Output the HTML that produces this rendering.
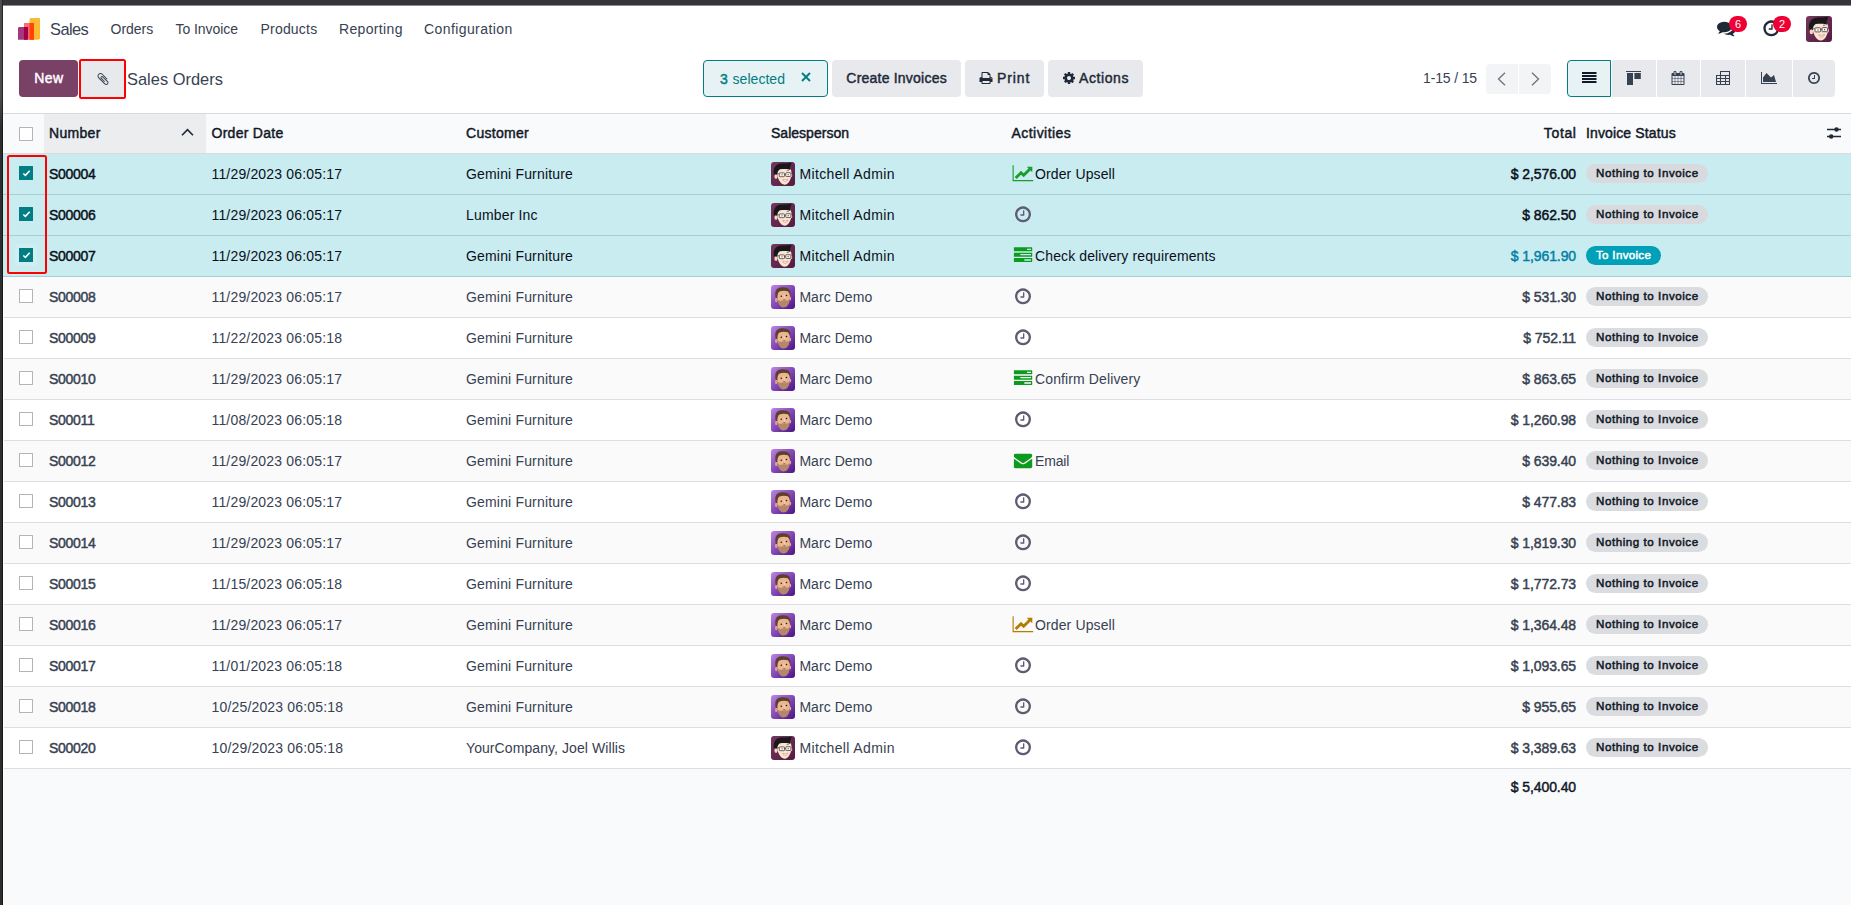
<!DOCTYPE html>
<html lang="en"><head><meta charset="utf-8"><title>Odoo - Sales Orders</title>
<style>
*{box-sizing:border-box}
html,body{margin:0;padding:0}
body{width:1851px;height:905px;overflow:hidden;position:relative;background:#f9fafb;font-family:"Liberation Sans",sans-serif;font-size:14px;color:#374151}
svg{display:block}
.abs{position:absolute}
.topbar{position:absolute;left:0;top:0;width:1851px;height:6px;background:linear-gradient(#353439 0,#353439 5px,#8b8a8e 5px,#8b8a8e 6px);z-index:5}
.leftstrip{position:absolute;left:0;top:0;width:3px;height:905px;background:linear-gradient(90deg,rgba(0,0,0,0) 0,rgba(0,0,0,0) 2px,rgba(0,0,0,.5) 2px),linear-gradient(#4d4d4d 0,#4d4d4d 95px,#2e2e2e 128px,#2e2e2e 100%);z-index:6}
.navbar{position:absolute;left:3px;top:5px;width:1848px;height:46px;background:#fff}
.navbar span{position:absolute;white-space:nowrap;line-height:46px;top:1px;color:#374151}
.navbar .brand{font-size:16.400px;letter-spacing:-.55px;left:47px;color:#374151}
.logo{position:absolute;left:15px;top:13px}
.nbic{position:absolute}
.nbadge{position:absolute;height:16px;min-width:18px;border-radius:8px;background:#ee0034;color:#fff;font-size:11px;line-height:16px;text-align:center;top:11px}
.cp{position:absolute;left:3px;top:51px;width:1848px;height:63px;background:#fff;border-bottom:1px solid #d8dadd}
.btn{position:absolute;top:9px;height:37px;border-radius:4px;background:#e7e9ed;color:#1f2937;-webkit-text-stroke:.45px currentColor;line-height:37px;white-space:nowrap}
.btn span{position:absolute;top:0}
.btn svg{position:absolute}
.btn-new{left:16px;width:59px;background:#71416a;background:#7a4167;color:#fff;text-align:center}
.btn-clip{left:78px;width:43px;top:10px;height:36px;border-radius:3px}
.crumb{position:absolute;left:124px;top:10px;line-height:37px;font-size:16.400px;letter-spacing:.02px;color:#374151;white-space:nowrap}
.selbox{position:absolute;left:700px;top:9px;width:125px;height:37px;border:1px solid #017e84;border-radius:4px;background:#e6f2f3;color:#017e84;line-height:35px;white-space:nowrap}
.selbox span{position:absolute;top:.7px}
.pager{position:absolute;left:1420px;top:9px;line-height:37px;color:#374151;letter-spacing:-.15px;white-space:nowrap}
.pgb{position:absolute;top:13px;height:30px;width:32px;background:#f3f4f6}
.pgb svg{position:absolute;left:11px;top:8px}
.vb{position:absolute;top:9px;height:37px;background:#e7e9ed}
.vb svg{position:absolute}
.vb.act{background:#e6f2f3;border:1px solid #017e84;border-radius:4px 0 0 4px}
/* list */
.list{position:absolute;left:3px;top:114px;width:1848px}
.thead{position:relative;height:40px;border-bottom:1px solid #d8dadd;background:#f9fafb;line-height:39px}
.thead:before{content:"";position:absolute;left:41px;top:0;width:162px;height:39px;background:#ecedef}
.th{position:absolute;top:0;-webkit-text-stroke:.45px currentColor;color:#111827;white-space:nowrap;letter-spacing:.4px}
.tr{position:relative;height:41px;border-bottom:1px solid #dcdee2;background:#fff;line-height:40px}
.tr.stripe{background:#fafafb}
.tr.sel{background:#c9ecf0;border-bottom-color:#a8cfd4;color:#0b0f1a}
.td{position:absolute;top:0;white-space:nowrap;letter-spacing:.17px}
.c-num{left:46px}
.td.c-num{-webkit-text-stroke:.45px currentColor;letter-spacing:-.3px}
.c-date{left:208.500px}
.c-cust{left:463px}
.c-sales{left:768px}
.c-act{left:1008px}
.c-total{right:275px;text-align:right}
.td.c-total{-webkit-text-stroke:.45px currentColor;letter-spacing:-.08px;margin-right:-.08px}
.th.c-total{right:275px}
.c-inv{left:1583px}
.info .c-total{color:#0180a5}
.av{position:absolute;left:0;top:8px}
.nm{position:absolute;left:28.400px;top:0}
.nm.mi{letter-spacing:.37px}
.nm.ma{letter-spacing:.06px}
.fw{position:absolute;left:0;top:0;width:24px;height:40px}
.fw svg{position:absolute;left:50%;top:10px;transform:translateX(-50%)}
.at{position:absolute;left:24px;top:0;letter-spacing:.12px}
.cb{position:absolute;left:16px;top:12px;width:14px;height:14px;border:1px solid #b4b4b6;background:#fff;border-radius:.5px}
.cb.on{background:#017e84;border-color:#017e84}
.cb.on svg{position:absolute;left:-1px;top:-1px}
.cb.focus{box-shadow:0 0 0 4px rgba(255,255,255,.16)}
.hcb{top:13px}
.badge{position:absolute;left:1583px;top:10px;height:19px;border-radius:10px;font-size:11.600px;-webkit-text-stroke:.5px currentColor;line-height:18px;padding:0 10px;white-space:nowrap;letter-spacing:.55px}
.bn{background:#dadce0;color:#111827;width:122px}
.sel .bn{background:#d8dadd}
.bt{background:#00a0b8;color:#fff;width:75px;letter-spacing:.3px}
.tfoot{position:relative;height:38px;line-height:36px;color:#111827}
.sortcaret{position:absolute;left:178.200px;top:14px}
.adjust{position:absolute;left:1823px;top:12px}
.redbox{position:absolute;border:2px solid #ff0000;border-radius:2.500px;z-index:4}
.rb1{left:79px;top:59px;width:47px;height:40px}
.rb2{left:7px;top:155px;width:40px;height:119px}

.th.c-num{letter-spacing:.3px}.th.c-date{letter-spacing:.28px}.th.c-cust{letter-spacing:.3px}.th.c-sales{letter-spacing:.02px}.th.c-act{letter-spacing:.45px;margin-left:.5px}.th.c-total{letter-spacing:.65px;margin-right:-.65px}.th.c-inv{letter-spacing:.13px}
.nbic .av{position:static}
.ls08{letter-spacing:.08px}
.wcol{position:absolute;left:3px;width:1px;background:#fff;z-index:3}
.at.em{letter-spacing:-.15px}

</style></head>
<body>
<div class="topbar"></div>
<div class="leftstrip"></div>
<nav class="navbar">
<svg class="logo" viewBox="0 0 22 22" width="22" height="22"><path d="M12.500 0H22v20.300L20.500 21.800H11.500V1z" fill="#fbb936"/><path d="M6 5h10v16.800H6z" fill="#ff6b7f"/><path d="M11.500 5H16v16.800h-4.500z" fill="#ff4500"/><path d="M1 9h9v12.800H0V10z" fill="#a3387f"/><path d="M6 9h4.100v11.800l-1 1H6z" fill="#a40046"/></svg>
<span class="brand">Sales</span>
<span style="left:107.500px">Orders</span>
<span style="left:172.500px;letter-spacing:-.05px">To Invoice</span>
<span style="left:257.500px;letter-spacing:.2px">Products</span>
<span style="left:336px;letter-spacing:.34px">Reporting</span>
<span style="left:421px;letter-spacing:.41px">Configuration</span>
<div class="nbic" style="left:1714px;top:14px"><svg class="fa" viewBox="0 0 1792 1792" width="18.67" height="18.67" style=""><path fill="#1f2937" d="M1408 768q0 139-94 257t-256.500 186.500-353.500 68.500q-86 0-176-16-124 88-278 128-36 9-86 16h-3q-11 0-20.500-8t-11.500-21q-1-3-1-6.500t.5-6.500 2-6l2.500-5 3.500-5.500 4-5 4.500-5 4-4.500q5-6 23-25t26-29.500 22.500-29 25-38.500 20.500-44q-124-72-195-177t-71-224q0-139 94-257t256.500-186.500 353.500-68.500 353.500 68.500 256.500 186.500 94 257zm384 256q0 120-71 224.500t-195 176.500q10 24 20.500 44t25 38.500 22.500 29 26 29.500 23 25q1 1 4 4.500t4.500 5 4 5 3.500 5.500l2.500 5 2 6 .5 6.500-1 6.500q-3 14-13 22t-22 7q-50-7-86-16-154-40-278-128-90 16-176 16-271 0-472-132 58 4 88 4 161 0 309-45t264-129q125-92 192-212t67-254q0-77-23-152 129 71 204 178t75 230z"/></svg></div>
<div class="nbadge" style="left:1726px">6</div>
<div class="nbic" style="left:1758.500px;top:14px"><svg class="fa" viewBox="0 0 1792 1792" width="18.67" height="18.67" style=""><path fill="#1f2937" d="M1024 544v448q0 14-9 23t-23 9h-320q-14 0-23-9t-9-23v-64q0-14 9-23t23-9h224v-352q0-14 9-23t23-9h64q14 0 23 9t9 23zm416 352q0-148-73-273t-198-198-273-73-273 73-198 198-73 273 73 273 198 198 273 73 273-73 198-198 73-273zm224 0q0 209-103 385.500t-279.500 279.500-385.500 103-385.500-103-279.500-279.500-103-385.500 103-385.500 279.500-279.500 385.500-103 385.500 103 279.500 279.500 103 385.500z"/></svg></div>
<div class="nbadge" style="left:1770px">2</div>
<div class="nbic" style="left:1803px;top:11px"><svg class="av" viewBox="0 0 26 26" width="26" height="26"><defs><linearGradient id="gmt" x1="0" y1="0" x2="1" y2="1"><stop offset="0" stop-color="#74385f"/><stop offset="1" stop-color="#561a41"/></linearGradient></defs><rect width="26" height="26" rx="3.200" fill="url(#gmt)"/><ellipse cx="5.400" cy="15.800" rx="1.700" ry="2.500" fill="#f6d6bc"/><ellipse cx="22" cy="14.600" rx="1" ry="1.900" fill="#eec3a4"/><path d="M6.300 9C6.300 6 10 5.400 14 5.400c4.500 0 8 1 8.200 5.600.3 6-2.700 13.600-7.400 13.600C10 24.600 6.300 17 6.300 9z" fill="#fce4d0"/><path d="M3.200 13.800C2.200 8 4 3.500 9 2 13 .8 17.500 2 21.900.7c.2 1.800-.4 3.500-1.500 4.800.5 1.300.6 2.200.3 3.200C18 7 13 7.900 9.700 7.900 7.900 8.900 7.100 11 6.600 13.800c-1-.6-2.500-.6-3.400 0z" fill="#18181b"/><rect x="9" y="11.800" width="5.600" height="4.100" rx=".7" fill="#fff" fill-opacity=".62" stroke="#4a4a4e" stroke-width=".9"/><rect x="16" y="11.600" width="5.500" height="4.100" rx=".7" fill="#fff" fill-opacity=".62" stroke="#4a4a4e" stroke-width=".9"/><path d="M14.600 13.300H16M6.600 12.900L9 12.700" stroke="#4a4a4e" stroke-width=".8"/><circle cx="12" cy="13.900" r=".6" fill="#3a3a3a"/><circle cx="18.600" cy="13.700" r=".6" fill="#3a3a3a"/><path d="M17 9.400q1.100-.6 2.200 0" stroke="#222" stroke-width=".6" fill="none"/><path d="M12.700 18.800q2.900 1.300 5.800-.3-.9 2.600-3 2.600-2.100 0-2.800-2.300z" fill="#fff" stroke="#b5645a" stroke-width=".45"/></svg></div>
</nav>
<header class="cp">
<div class="btn btn-new"><span style="left:15.200px;letter-spacing:.4px">New</span></div>
<div class="btn btn-clip"><div style="position:absolute;left:15px;top:11px"><svg class="fa" viewBox="0 0 1792 1792" width="14.00" height="14.00" style=""><path fill="#374151" d="M1596 1385q0 117-79 196t-196 79q-135 0-235-100l-777-776q-113-115-113-271 0-159 110-270t269-111q158 0 273 113l605 606q10 10 10 22 0 16-30.500 46.500t-46.500 30.500q-13 0-23-10l-606-607q-79-77-181-77-106 0-179 75t-73 181q0 105 76 181l776 777q63 63 145 63 64 0 106-42t42-106q0-82-63-145l-581-581q-26-24-60-24-29 0-48 19t-19 48q0 32 25 59l410 410q10 10 10 22 0 16-31 47t-47 31q-12 0-22-10l-410-410q-63-61-63-149 0-82 57-139t139-57q88 0 149 63l581 581q100 98 100 235z"/></svg></div></div>
<div class="crumb">Sales Orders</div>
<div class="selbox"><span style="left:16px;-webkit-text-stroke:.45px currentColor">3</span><span style="left:28.500px;letter-spacing:.05px">selected</span><svg style="position:absolute;left:97.200px;top:11px" viewBox="0 0 10 10" width="10" height="10"><path d="M1 1l8 8M9 1l-8 8" stroke="#017e84" stroke-width="1.900" fill="none"/></svg></div>
<div class="btn" style="left:829px;width:129px"><span style="left:14.300px;letter-spacing:.22px">Create Invoices</span></div>
<div class="btn" style="left:962px;width:79px"><div style="position:absolute;left:14px;top:11px"><svg class="fa" viewBox="0 0 1792 1792" width="14.00" height="14.00" style=""><path fill="#1f2937" d="M448 1536h896v-256h-896v256zm0-640h896v-384h-160q-40 0-68-28t-28-68v-160h-640v640zm1152 64q0-26-19-45t-45-19-45 19-19 45 19 45 45 19 45-19 19-45zm128 0v416q0 13-9.500 22.500t-22.500 9.500h-224v160q0 40-28 68t-68 28h-960q-40 0-68-28t-28-68v-160h-224q-13 0-22.500-9.500t-9.500-22.500v-416q0-79 56.500-135.500t135.500-56.500h64v-544q0-40 28-68t68-28h672q40 0 88 20t76 48l152 152q28 28 48 76t20 88v256h64q79 0 135.500 56.500t56.500 135.500z"/></svg></div><span style="left:32px;letter-spacing:.9px">Print</span></div>
<div class="btn" style="left:1045px;width:95px"><div style="position:absolute;left:13.500px;top:11px"><svg class="fa" viewBox="0 0 1792 1792" width="14.00" height="14.00" style=""><path fill="#1f2937" d="M1152 896q0-106-75-181t-181-75-181 75-75 181 75 181 181 75 181-75 75-181zm512-109v222q0 12-8 23t-20 13l-185 28q-19 54-39 91 35 50 107 138 10 12 10 25t-9 23q-27 37-99 108t-94 71q-12 0-26-9l-138-108q-44 23-91 38-16 136-29 186-7 28-36 28h-222q-14 0-24.500-8.500t-11.500-21.500l-28-184q-49-16-90-37l-141 107q-10 9-25 9-14 0-25-11-126-114-165-168-7-10-7-23 0-12 8-23 15-21 51-66.500t54-70.500q-27-50-41-99l-183-27q-13-2-21-12.500t-8-23.500v-222q0-12 8-23t19-13l186-28q14-46 39-92-40-57-107-138-10-12-10-24 0-10 9-23 26-36 98.500-107.500t94.500-71.500q13 0 26 10l138 107q44-23 91-38 16-136 29-186 7-28 36-28h222q14 0 24.500 8.500t11.500 21.500l28 184q49 16 90 37l142-107q9-9 24-9 13 0 25 10 129 119 165 170 7 8 7 22 0 12-8 23-15 21-51 66.500t-54 70.500q26 50 41 98l183 28q13 2 21 12.500t8 23.500z"/></svg></div><span style="left:31px;letter-spacing:.58px">Actions</span></div>
<div class="pager">1-15 / 15</div>
<div class="pgb" style="left:1483px;border-radius:4px 0 0 4px"><svg viewBox="0 0 10 14" width="10" height="14"><path d="M8 .7L1.500 7 8 13.300" fill="none" stroke="#6b7280" stroke-width="1.300"/></svg></div>
<div class="pgb" style="left:1516px;border-radius:0 4px 4px 0"><svg viewBox="0 0 10 14" width="10" height="14"><path d="M2 .7L8.500 7 2 13.300" fill="none" stroke="#6b7280" stroke-width="1.300"/></svg></div>
<div class="vb act" style="left:1564px;width:44px"><svg style="left:14px;top:11.300px" viewBox="0 0 14.500 11" width="14.500" height="11"><path d="M0 1h14.500M0 4h14.500M0 7h14.500M0 10h14.500" stroke="#111827" stroke-width="1.900"/></svg></div>
<div class="vb" style="left:1609px;width:44px"><svg style="left:14px;top:11px" viewBox="0 0 15 14" width="15" height="14"><path d="M0 .5h15" stroke="#374151" stroke-width="1"/><rect x="1" y="2" width="6" height="12" fill="#374151"/><rect x="8.400" y="2" width="6.400" height="6" fill="#374151"/></svg></div>
<div class="vb" style="left:1654px;width:43px"><div style="position:absolute;left:14px;top:11px"><svg class="fa" viewBox="0 0 1792 1792" width="14.00" height="14.00" style=""><path fill="#374151" d="M192 1664h288v-288h-288v288zm352 0h320v-288h-320v288zm-352-352h288v-320h-288v320zm352 0h320v-320h-320v320zm-352-384h288v-288h-288v288zm736 736h320v-288h-320v288zm-384-736h320v-288h-320v288zm768 736h288v-288h-288v288zm-384-352h320v-320h-320v320zm-352-864v-288q0-13-9.500-22.500t-22.500-9.500h-64q-13 0-22.500 9.500t-9.500 22.500v288q0 13 9.500 22.500t22.500 9.500h64q13 0 22.500-9.500t9.500-22.500zm736 864h288v-320h-288v320zm-384-384h320v-288h-320v288zm384 0h288v-288h-288v288zm32-480v-288q0-13-9.500-22.500t-22.500-9.500h-64q-13 0-22.500 9.500t-9.500 22.500v288q0 13 9.500 22.500t22.500 9.500h64q13 0 22.500-9.500t9.500-22.500zm384-64v1280q0 52-38 90t-90 38h-1408q-52 0-90-38t-38-90v-1280q0-52 38-90t90-38h128v-96q0-66 47-113t113-47h64q66 0 113 47t47 113v96h384v-96q0-66 47-113t113-47h64q66 0 113 47t47 113v96h128q52 0 90 38t38 90z"/></svg></div></div>
<div class="vb" style="left:1698px;width:44px"><svg style="left:15px;top:11px" viewBox="0 0 14 14" width="14" height="14"><path d="M4.500 .5h9v13H.5v-9h4zM.5 4.500h13M.5 7.500h13M.5 10.500h13M4.500 .5v13M9.500 4.500v9" fill="none" stroke="#374151" stroke-width="1.050"/></svg></div>
<div class="vb" style="left:1743px;width:46px"><div style="position:absolute;left:15px;top:11px"><svg class="fa" viewBox="0 0 2048 1792" width="16.00" height="14.00" style=""><path fill="#374151" d="M2048 1536v128h-2048v-1536h128v1408h1920zm-384-1024l256 896h-1664v-576l448-576 576 576z"/></svg></div></div>
<div class="vb" style="left:1790px;width:42px;border-radius:0 4px 4px 0"><div style="position:absolute;left:14px;top:11px"><svg class="fa" viewBox="0 0 1792 1792" width="14.00" height="14.00" style=""><path fill="#374151" d="M1024 544v448q0 14-9 23t-23 9h-320q-14 0-23-9t-9-23v-64q0-14 9-23t23-9h224v-352q0-14 9-23t23-9h64q14 0 23 9t9 23zm416 352q0-148-73-273t-198-198-273-73-273 73-198 198-73 273 73 273 198 198 273 73 273-73 198-198 73-273zm224 0q0 209-103 385.500t-279.500 279.500-385.500 103-385.500-103-279.500-279.500-103-385.500 103-385.500 279.500-279.500 385.500-103 385.500 103 279.500 279.500 103 385.500z"/></svg></div></div>
</header>
<main class="list" role="table" aria-label="Sales Orders">
<div class="thead" role="row">
<span class="cb hcb"></span>
<span class="th c-num">Number</span>
<svg class="sortcaret" viewBox="0 0 13 8" width="13" height="8"><path d="M1 7.200L6.500 1.700l5.500 5.500" fill="none" stroke="#1f2937" stroke-width="1.600"/></svg>
<span class="th c-date">Order Date</span>
<span class="th c-cust">Customer</span>
<span class="th c-sales">Salesperson</span>
<span class="th c-act">Activities</span>
<span class="th c-total">Total</span>
<span class="th c-inv">Invoice Status</span>
<svg class="adjust" viewBox="0 0 16 14" width="16" height="14"><path d="M1 3.500h14M1 10.500h14" stroke="#1f2937" stroke-width="1.300"/><circle cx="10.500" cy="3.500" r="2.200" fill="#1f2937"/><circle cx="5.200" cy="10.500" r="2.200" fill="#1f2937"/></svg>
</div>
<div class="tr sel" role="row">
<span class="cb on"><svg viewBox="0 0 14 14" width="14" height="14"><path d="M4.300 7.500L6.400 9.400 10.700 4.700" fill="none" stroke="#fff" stroke-width="1.600"/></svg></span><span class="td c-num">S00004</span><span class="td c-date">11/29/2023 06:05:17</span><span class="td c-cust">Gemini Furniture</span><span class="td c-sales"><svg class="av" viewBox="0 0 26 26" width="24" height="24"><defs><linearGradient id="gm0" x1="0" y1="0" x2="1" y2="1"><stop offset="0" stop-color="#74385f"/><stop offset="1" stop-color="#561a41"/></linearGradient></defs><rect width="26" height="26" rx="3.200" fill="url(#gm0)"/><ellipse cx="5.400" cy="15.800" rx="1.700" ry="2.500" fill="#f6d6bc"/><ellipse cx="22" cy="14.600" rx="1" ry="1.900" fill="#eec3a4"/><path d="M6.300 9C6.300 6 10 5.400 14 5.400c4.500 0 8 1 8.200 5.600.3 6-2.700 13.600-7.400 13.600C10 24.600 6.300 17 6.300 9z" fill="#fce4d0"/><path d="M3.200 13.800C2.200 8 4 3.500 9 2 13 .8 17.500 2 21.900.7c.2 1.800-.4 3.500-1.500 4.800.5 1.300.6 2.200.3 3.200C18 7 13 7.900 9.700 7.900 7.900 8.900 7.100 11 6.600 13.800c-1-.6-2.500-.6-3.400 0z" fill="#18181b"/><rect x="9" y="11.800" width="5.600" height="4.100" rx=".7" fill="#fff" fill-opacity=".62" stroke="#4a4a4e" stroke-width=".9"/><rect x="16" y="11.600" width="5.500" height="4.100" rx=".7" fill="#fff" fill-opacity=".62" stroke="#4a4a4e" stroke-width=".9"/><path d="M14.600 13.300H16M6.600 12.900L9 12.700" stroke="#4a4a4e" stroke-width=".8"/><circle cx="12" cy="13.900" r=".6" fill="#3a3a3a"/><circle cx="18.600" cy="13.700" r=".6" fill="#3a3a3a"/><path d="M17 9.400q1.100-.6 2.200 0" stroke="#222" stroke-width=".6" fill="none"/><path d="M12.700 18.800q2.900 1.300 5.800-.3-.9 2.600-3 2.600-2.100 0-2.800-2.300z" fill="#fff" stroke="#b5645a" stroke-width=".45"/></svg><span class="nm mi">Mitchell Admin</span></span><span class="td c-act"><span class="fw"><svg class="fa" viewBox="0 0 2048 1792" width="21.34" height="18.67" style=""><path fill="#1a9d2b" d="M2048 1536v128h-2048v-1536h128v1408h1920zm-128-1248v435q0 21-19.500 29.500t-35.500-7.500l-121-121-633 633q-10 10-23 10t-23-10l-233-233-416 416-192-192 585-585q10-10 23-10t23 10l233 233 464-464-121-121q-16-16-7.500-35.500t29.500-19.500h435q14 0 23 9t9 23z"/></svg></span><span class="at">Order Upsell</span></span><span class="td c-total">$ 2,576.00</span><span class="badge bn">Nothing to Invoice</span>
</div>
<div class="tr sel" role="row">
<span class="cb on"><svg viewBox="0 0 14 14" width="14" height="14"><path d="M4.300 7.500L6.400 9.400 10.700 4.700" fill="none" stroke="#fff" stroke-width="1.600"/></svg></span><span class="td c-num">S00006</span><span class="td c-date">11/29/2023 06:05:17</span><span class="td c-cust">Lumber Inc</span><span class="td c-sales"><svg class="av" viewBox="0 0 26 26" width="24" height="24"><defs><linearGradient id="gm1" x1="0" y1="0" x2="1" y2="1"><stop offset="0" stop-color="#74385f"/><stop offset="1" stop-color="#561a41"/></linearGradient></defs><rect width="26" height="26" rx="3.200" fill="url(#gm1)"/><ellipse cx="5.400" cy="15.800" rx="1.700" ry="2.500" fill="#f6d6bc"/><ellipse cx="22" cy="14.600" rx="1" ry="1.900" fill="#eec3a4"/><path d="M6.300 9C6.300 6 10 5.400 14 5.400c4.500 0 8 1 8.200 5.600.3 6-2.700 13.600-7.400 13.600C10 24.600 6.300 17 6.300 9z" fill="#fce4d0"/><path d="M3.200 13.800C2.200 8 4 3.500 9 2 13 .8 17.500 2 21.900.7c.2 1.800-.4 3.500-1.500 4.800.5 1.300.6 2.200.3 3.200C18 7 13 7.900 9.700 7.900 7.900 8.900 7.100 11 6.600 13.800c-1-.6-2.500-.6-3.400 0z" fill="#18181b"/><rect x="9" y="11.800" width="5.600" height="4.100" rx=".7" fill="#fff" fill-opacity=".62" stroke="#4a4a4e" stroke-width=".9"/><rect x="16" y="11.600" width="5.500" height="4.100" rx=".7" fill="#fff" fill-opacity=".62" stroke="#4a4a4e" stroke-width=".9"/><path d="M14.600 13.300H16M6.600 12.900L9 12.700" stroke="#4a4a4e" stroke-width=".8"/><circle cx="12" cy="13.900" r=".6" fill="#3a3a3a"/><circle cx="18.600" cy="13.700" r=".6" fill="#3a3a3a"/><path d="M17 9.400q1.100-.6 2.200 0" stroke="#222" stroke-width=".6" fill="none"/><path d="M12.700 18.800q2.900 1.300 5.800-.3-.9 2.600-3 2.600-2.100 0-2.800-2.300z" fill="#fff" stroke="#b5645a" stroke-width=".45"/></svg><span class="nm mi">Mitchell Admin</span></span><span class="td c-act"><span class="fw"><svg class="fa" viewBox="0 0 1792 1792" width="18.67" height="18.67" style=""><path fill="#5e5c72" d="M1024 544v448q0 14-9 23t-23 9h-320q-14 0-23-9t-9-23v-64q0-14 9-23t23-9h224v-352q0-14 9-23t23-9h64q14 0 23 9t9 23zm416 352q0-148-73-273t-198-198-273-73-273 73-198 198-73 273 73 273 198 198 273 73 273-73 198-198 73-273zm224 0q0 209-103 385.500t-279.500 279.500-385.500 103-385.500-103-279.500-279.500-103-385.500 103-385.500 279.500-279.500 385.500-103 385.500 103 279.500 279.500 103 385.500z"/></svg></span></span><span class="td c-total">$ 862.50</span><span class="badge bn">Nothing to Invoice</span>
</div>
<div class="tr sel info" role="row">
<span class="cb on focus"><svg viewBox="0 0 14 14" width="14" height="14"><path d="M4.300 7.500L6.400 9.400 10.700 4.700" fill="none" stroke="#fff" stroke-width="1.600"/></svg></span><span class="td c-num">S00007</span><span class="td c-date">11/29/2023 06:05:17</span><span class="td c-cust">Gemini Furniture</span><span class="td c-sales"><svg class="av" viewBox="0 0 26 26" width="24" height="24"><defs><linearGradient id="gm2" x1="0" y1="0" x2="1" y2="1"><stop offset="0" stop-color="#74385f"/><stop offset="1" stop-color="#561a41"/></linearGradient></defs><rect width="26" height="26" rx="3.200" fill="url(#gm2)"/><ellipse cx="5.400" cy="15.800" rx="1.700" ry="2.500" fill="#f6d6bc"/><ellipse cx="22" cy="14.600" rx="1" ry="1.900" fill="#eec3a4"/><path d="M6.300 9C6.300 6 10 5.400 14 5.400c4.500 0 8 1 8.200 5.600.3 6-2.700 13.600-7.400 13.600C10 24.600 6.300 17 6.300 9z" fill="#fce4d0"/><path d="M3.200 13.800C2.200 8 4 3.500 9 2 13 .8 17.500 2 21.900.7c.2 1.800-.4 3.500-1.500 4.800.5 1.300.6 2.200.3 3.200C18 7 13 7.900 9.700 7.900 7.900 8.900 7.100 11 6.600 13.800c-1-.6-2.500-.6-3.400 0z" fill="#18181b"/><rect x="9" y="11.800" width="5.600" height="4.100" rx=".7" fill="#fff" fill-opacity=".62" stroke="#4a4a4e" stroke-width=".9"/><rect x="16" y="11.600" width="5.500" height="4.100" rx=".7" fill="#fff" fill-opacity=".62" stroke="#4a4a4e" stroke-width=".9"/><path d="M14.600 13.300H16M6.600 12.900L9 12.700" stroke="#4a4a4e" stroke-width=".8"/><circle cx="12" cy="13.900" r=".6" fill="#3a3a3a"/><circle cx="18.600" cy="13.700" r=".6" fill="#3a3a3a"/><path d="M17 9.400q1.100-.6 2.200 0" stroke="#222" stroke-width=".6" fill="none"/><path d="M12.700 18.800q2.900 1.300 5.800-.3-.9 2.600-3 2.600-2.100 0-2.800-2.300z" fill="#fff" stroke="#b5645a" stroke-width=".45"/></svg><span class="nm mi">Mitchell Admin</span></span><span class="td c-act"><span class="fw"><svg class="fa" viewBox="0 0 1792 1792" width="18.67" height="18.67" style=""><path fill="#0e9a1f" d="M1024 1408h640v-128h-640v128zm-384-512h1024v-128h-1024v128zm640-512h384v-128h-384v128zm512 832v256q0 26-19 45t-45 19h-1664q-26 0-45-19t-19-45v-256q0-26 19-45t45-19h1664q26 0 45 19t19 45zm0-512v256q0 26-19 45t-45 19h-1664q-26 0-45-19t-19-45v-256q0-26 19-45t45-19h1664q26 0 45 19t19 45zm0-512v256q0 26-19 45t-45 19h-1664q-26 0-45-19t-19-45v-256q0-26 19-45t45-19h1664q26 0 45 19t19 45z"/></svg></span><span class="at">Check delivery requirements</span></span><span class="td c-total">$ 1,961.90</span><span class="badge bt">To Invoice</span>
</div>
<div class="tr stripe" role="row">
<span class="cb"></span><span class="td c-num">S00008</span><span class="td c-date">11/29/2023 06:05:17</span><span class="td c-cust">Gemini Furniture</span><span class="td c-sales"><svg class="av" viewBox="0 0 24 24" width="24" height="24"><defs><linearGradient id="gd3" x1="0" y1="0" x2="1" y2="1"><stop offset="0" stop-color="#bd86e6"/><stop offset=".5" stop-color="#8349b6"/><stop offset="1" stop-color="#4b1282"/></linearGradient></defs><rect width="24" height="24" rx="3" fill="url(#gd3)"/><ellipse cx="5.300" cy="15" rx="1.300" ry="2.300" fill="#dba47e"/><ellipse cx="19.200" cy="13.600" rx=".9" ry="1.800" fill="#e3b08c"/><path d="M6 8c0-3.500 3-4 6.500-4S19 5 19 9.500c0 5.500-1.500 12.700-6.400 12.700C8 22.200 6 15 6 8z" fill="#e9b68f"/><path d="M6.700 14.500c1.300 1.500 2.800 1.700 4.300 1.100 1.500-.4 3-.4 4.500-.1 1.500.3 2.500-.5 3.200-2 0 4.500-2.200 8.800-6.100 8.800-3.600 0-5.600-3.800-5.900-7.800z" fill="#b3876a"/><path d="M4.800 13C3.500 8 4.500 3.500 9 2.600c4-.8 8.500-.1 9.800 2.900.8 2 .7 4 .2 5.500-.4-2-1-3.500-2.200-4.700C14 5.500 10.500 5.600 8 6.800 6.800 8.500 6.400 10.500 6.200 13z" fill="#5e3f2e"/><ellipse cx="10.300" cy="11.300" rx=".8" ry=".75" fill="#2a1a14"/><ellipse cx="15.500" cy="10.600" rx=".8" ry=".75" fill="#2a1a14"/><path d="M12.900 9.500l.6 3.800" stroke="#f6d2b6" stroke-width="1.100"/><ellipse cx="13.300" cy="14.500" rx="1.100" ry=".5" fill="#b5604a"/></svg><span class="nm ma">Marc Demo</span></span><span class="td c-act"><span class="fw"><svg class="fa" viewBox="0 0 1792 1792" width="18.67" height="18.67" style=""><path fill="#5e5c72" d="M1024 544v448q0 14-9 23t-23 9h-320q-14 0-23-9t-9-23v-64q0-14 9-23t23-9h224v-352q0-14 9-23t23-9h64q14 0 23 9t9 23zm416 352q0-148-73-273t-198-198-273-73-273 73-198 198-73 273 73 273 198 198 273 73 273-73 198-198 73-273zm224 0q0 209-103 385.500t-279.500 279.500-385.500 103-385.500-103-279.500-279.500-103-385.500 103-385.500 279.500-279.500 385.500-103 385.500 103 279.500 279.500 103 385.500z"/></svg></span></span><span class="td c-total">$ 531.30</span><span class="badge bn">Nothing to Invoice</span>
</div>
<div class="tr" role="row">
<span class="cb"></span><span class="td c-num">S00009</span><span class="td c-date">11/22/2023 06:05:18</span><span class="td c-cust">Gemini Furniture</span><span class="td c-sales"><svg class="av" viewBox="0 0 24 24" width="24" height="24"><defs><linearGradient id="gd4" x1="0" y1="0" x2="1" y2="1"><stop offset="0" stop-color="#bd86e6"/><stop offset=".5" stop-color="#8349b6"/><stop offset="1" stop-color="#4b1282"/></linearGradient></defs><rect width="24" height="24" rx="3" fill="url(#gd4)"/><ellipse cx="5.300" cy="15" rx="1.300" ry="2.300" fill="#dba47e"/><ellipse cx="19.200" cy="13.600" rx=".9" ry="1.800" fill="#e3b08c"/><path d="M6 8c0-3.500 3-4 6.500-4S19 5 19 9.500c0 5.500-1.500 12.700-6.400 12.700C8 22.200 6 15 6 8z" fill="#e9b68f"/><path d="M6.700 14.500c1.300 1.500 2.800 1.700 4.300 1.100 1.500-.4 3-.4 4.500-.1 1.500.3 2.500-.5 3.200-2 0 4.500-2.200 8.800-6.100 8.800-3.600 0-5.600-3.800-5.900-7.800z" fill="#b3876a"/><path d="M4.800 13C3.500 8 4.500 3.500 9 2.600c4-.8 8.500-.1 9.800 2.900.8 2 .7 4 .2 5.500-.4-2-1-3.500-2.200-4.700C14 5.500 10.500 5.600 8 6.800 6.800 8.500 6.400 10.500 6.200 13z" fill="#5e3f2e"/><ellipse cx="10.300" cy="11.300" rx=".8" ry=".75" fill="#2a1a14"/><ellipse cx="15.500" cy="10.600" rx=".8" ry=".75" fill="#2a1a14"/><path d="M12.900 9.500l.6 3.800" stroke="#f6d2b6" stroke-width="1.100"/><ellipse cx="13.300" cy="14.500" rx="1.100" ry=".5" fill="#b5604a"/></svg><span class="nm ma">Marc Demo</span></span><span class="td c-act"><span class="fw"><svg class="fa" viewBox="0 0 1792 1792" width="18.67" height="18.67" style=""><path fill="#5e5c72" d="M1024 544v448q0 14-9 23t-23 9h-320q-14 0-23-9t-9-23v-64q0-14 9-23t23-9h224v-352q0-14 9-23t23-9h64q14 0 23 9t9 23zm416 352q0-148-73-273t-198-198-273-73-273 73-198 198-73 273 73 273 198 198 273 73 273-73 198-198 73-273zm224 0q0 209-103 385.500t-279.500 279.500-385.500 103-385.500-103-279.500-279.500-103-385.500 103-385.500 279.500-279.500 385.500-103 385.500 103 279.500 279.500 103 385.500z"/></svg></span></span><span class="td c-total">$ 752.11</span><span class="badge bn">Nothing to Invoice</span>
</div>
<div class="tr stripe" role="row">
<span class="cb"></span><span class="td c-num">S00010</span><span class="td c-date">11/29/2023 06:05:17</span><span class="td c-cust">Gemini Furniture</span><span class="td c-sales"><svg class="av" viewBox="0 0 24 24" width="24" height="24"><defs><linearGradient id="gd5" x1="0" y1="0" x2="1" y2="1"><stop offset="0" stop-color="#bd86e6"/><stop offset=".5" stop-color="#8349b6"/><stop offset="1" stop-color="#4b1282"/></linearGradient></defs><rect width="24" height="24" rx="3" fill="url(#gd5)"/><ellipse cx="5.300" cy="15" rx="1.300" ry="2.300" fill="#dba47e"/><ellipse cx="19.200" cy="13.600" rx=".9" ry="1.800" fill="#e3b08c"/><path d="M6 8c0-3.500 3-4 6.500-4S19 5 19 9.500c0 5.500-1.500 12.700-6.400 12.700C8 22.200 6 15 6 8z" fill="#e9b68f"/><path d="M6.700 14.500c1.300 1.500 2.800 1.700 4.300 1.100 1.500-.4 3-.4 4.500-.1 1.500.3 2.500-.5 3.200-2 0 4.500-2.200 8.800-6.100 8.800-3.600 0-5.600-3.800-5.900-7.800z" fill="#b3876a"/><path d="M4.800 13C3.500 8 4.500 3.500 9 2.600c4-.8 8.500-.1 9.800 2.900.8 2 .7 4 .2 5.500-.4-2-1-3.500-2.200-4.700C14 5.500 10.500 5.600 8 6.800 6.800 8.500 6.400 10.500 6.200 13z" fill="#5e3f2e"/><ellipse cx="10.300" cy="11.300" rx=".8" ry=".75" fill="#2a1a14"/><ellipse cx="15.500" cy="10.600" rx=".8" ry=".75" fill="#2a1a14"/><path d="M12.900 9.500l.6 3.800" stroke="#f6d2b6" stroke-width="1.100"/><ellipse cx="13.300" cy="14.500" rx="1.100" ry=".5" fill="#b5604a"/></svg><span class="nm ma">Marc Demo</span></span><span class="td c-act"><span class="fw"><svg class="fa" viewBox="0 0 1792 1792" width="18.67" height="18.67" style=""><path fill="#0e9a1f" d="M1024 1408h640v-128h-640v128zm-384-512h1024v-128h-1024v128zm640-512h384v-128h-384v128zm512 832v256q0 26-19 45t-45 19h-1664q-26 0-45-19t-19-45v-256q0-26 19-45t45-19h1664q26 0 45 19t19 45zm0-512v256q0 26-19 45t-45 19h-1664q-26 0-45-19t-19-45v-256q0-26 19-45t45-19h1664q26 0 45 19t19 45zm0-512v256q0 26-19 45t-45 19h-1664q-26 0-45-19t-19-45v-256q0-26 19-45t45-19h1664q26 0 45 19t19 45z"/></svg></span><span class="at">Confirm Delivery</span></span><span class="td c-total">$ 863.65</span><span class="badge bn">Nothing to Invoice</span>
</div>
<div class="tr" role="row">
<span class="cb"></span><span class="td c-num">S00011</span><span class="td c-date">11/08/2023 06:05:18</span><span class="td c-cust">Gemini Furniture</span><span class="td c-sales"><svg class="av" viewBox="0 0 24 24" width="24" height="24"><defs><linearGradient id="gd6" x1="0" y1="0" x2="1" y2="1"><stop offset="0" stop-color="#bd86e6"/><stop offset=".5" stop-color="#8349b6"/><stop offset="1" stop-color="#4b1282"/></linearGradient></defs><rect width="24" height="24" rx="3" fill="url(#gd6)"/><ellipse cx="5.300" cy="15" rx="1.300" ry="2.300" fill="#dba47e"/><ellipse cx="19.200" cy="13.600" rx=".9" ry="1.800" fill="#e3b08c"/><path d="M6 8c0-3.500 3-4 6.500-4S19 5 19 9.500c0 5.500-1.500 12.700-6.400 12.700C8 22.200 6 15 6 8z" fill="#e9b68f"/><path d="M6.700 14.500c1.300 1.500 2.800 1.700 4.300 1.100 1.500-.4 3-.4 4.500-.1 1.500.3 2.500-.5 3.200-2 0 4.500-2.200 8.800-6.100 8.800-3.600 0-5.600-3.800-5.900-7.800z" fill="#b3876a"/><path d="M4.800 13C3.500 8 4.500 3.500 9 2.600c4-.8 8.500-.1 9.800 2.900.8 2 .7 4 .2 5.500-.4-2-1-3.500-2.200-4.700C14 5.500 10.500 5.600 8 6.800 6.800 8.500 6.400 10.500 6.200 13z" fill="#5e3f2e"/><ellipse cx="10.300" cy="11.300" rx=".8" ry=".75" fill="#2a1a14"/><ellipse cx="15.500" cy="10.600" rx=".8" ry=".75" fill="#2a1a14"/><path d="M12.900 9.500l.6 3.800" stroke="#f6d2b6" stroke-width="1.100"/><ellipse cx="13.300" cy="14.500" rx="1.100" ry=".5" fill="#b5604a"/></svg><span class="nm ma">Marc Demo</span></span><span class="td c-act"><span class="fw"><svg class="fa" viewBox="0 0 1792 1792" width="18.67" height="18.67" style=""><path fill="#5e5c72" d="M1024 544v448q0 14-9 23t-23 9h-320q-14 0-23-9t-9-23v-64q0-14 9-23t23-9h224v-352q0-14 9-23t23-9h64q14 0 23 9t9 23zm416 352q0-148-73-273t-198-198-273-73-273 73-198 198-73 273 73 273 198 198 273 73 273-73 198-198 73-273zm224 0q0 209-103 385.500t-279.500 279.500-385.500 103-385.500-103-279.500-279.500-103-385.500 103-385.500 279.500-279.500 385.500-103 385.500 103 279.500 279.500 103 385.500z"/></svg></span></span><span class="td c-total">$ 1,260.98</span><span class="badge bn">Nothing to Invoice</span>
</div>
<div class="tr stripe" role="row">
<span class="cb"></span><span class="td c-num">S00012</span><span class="td c-date">11/29/2023 06:05:17</span><span class="td c-cust">Gemini Furniture</span><span class="td c-sales"><svg class="av" viewBox="0 0 24 24" width="24" height="24"><defs><linearGradient id="gd7" x1="0" y1="0" x2="1" y2="1"><stop offset="0" stop-color="#bd86e6"/><stop offset=".5" stop-color="#8349b6"/><stop offset="1" stop-color="#4b1282"/></linearGradient></defs><rect width="24" height="24" rx="3" fill="url(#gd7)"/><ellipse cx="5.300" cy="15" rx="1.300" ry="2.300" fill="#dba47e"/><ellipse cx="19.200" cy="13.600" rx=".9" ry="1.800" fill="#e3b08c"/><path d="M6 8c0-3.500 3-4 6.500-4S19 5 19 9.500c0 5.500-1.500 12.700-6.400 12.700C8 22.200 6 15 6 8z" fill="#e9b68f"/><path d="M6.700 14.500c1.300 1.500 2.800 1.700 4.300 1.100 1.500-.4 3-.4 4.500-.1 1.500.3 2.500-.5 3.200-2 0 4.500-2.200 8.800-6.100 8.800-3.600 0-5.600-3.800-5.900-7.800z" fill="#b3876a"/><path d="M4.800 13C3.500 8 4.500 3.500 9 2.600c4-.8 8.500-.1 9.800 2.900.8 2 .7 4 .2 5.500-.4-2-1-3.500-2.200-4.700C14 5.500 10.500 5.600 8 6.800 6.800 8.500 6.400 10.500 6.200 13z" fill="#5e3f2e"/><ellipse cx="10.300" cy="11.300" rx=".8" ry=".75" fill="#2a1a14"/><ellipse cx="15.500" cy="10.600" rx=".8" ry=".75" fill="#2a1a14"/><path d="M12.900 9.500l.6 3.800" stroke="#f6d2b6" stroke-width="1.100"/><ellipse cx="13.300" cy="14.500" rx="1.100" ry=".5" fill="#b5604a"/></svg><span class="nm ma">Marc Demo</span></span><span class="td c-act"><span class="fw"><svg class="fa" viewBox="0 0 1792 1792" width="18.67" height="18.67" style=""><path fill="#0e9a1f" d="M1792 710v794q0 66-47 113t-113 47h-1472q-66 0-113-47t-47-113v-794q44 49 101 87 362 246 497 345 57 42 92.500 65.500t94.500 48 110 24.500h2q51 0 110-24.500t94.500-48 92.500-65.500q170-123 498-345 57-39 100-87zm0-294q0 79-49 151t-122 123q-376 261-468 325-10 7-42.500 30.500t-54 38-52 32.500-57.500 27-50 9h-2q-23 0-50-9t-57.500-27-52-32.500-54-38-42.500-30.500q-91-64-262-182.500t-205-142.500q-62-42-117-115.500t-55-136.500q0-78 41.500-130t118.500-52h1472q65 0 112.500 47t47.500 113z"/></svg></span><span class="at em">Email</span></span><span class="td c-total">$ 639.40</span><span class="badge bn">Nothing to Invoice</span>
</div>
<div class="tr" role="row">
<span class="cb"></span><span class="td c-num">S00013</span><span class="td c-date">11/29/2023 06:05:17</span><span class="td c-cust">Gemini Furniture</span><span class="td c-sales"><svg class="av" viewBox="0 0 24 24" width="24" height="24"><defs><linearGradient id="gd8" x1="0" y1="0" x2="1" y2="1"><stop offset="0" stop-color="#bd86e6"/><stop offset=".5" stop-color="#8349b6"/><stop offset="1" stop-color="#4b1282"/></linearGradient></defs><rect width="24" height="24" rx="3" fill="url(#gd8)"/><ellipse cx="5.300" cy="15" rx="1.300" ry="2.300" fill="#dba47e"/><ellipse cx="19.200" cy="13.600" rx=".9" ry="1.800" fill="#e3b08c"/><path d="M6 8c0-3.500 3-4 6.500-4S19 5 19 9.500c0 5.500-1.500 12.700-6.400 12.700C8 22.200 6 15 6 8z" fill="#e9b68f"/><path d="M6.700 14.500c1.300 1.500 2.800 1.700 4.300 1.100 1.500-.4 3-.4 4.500-.1 1.500.3 2.500-.5 3.200-2 0 4.500-2.200 8.800-6.100 8.800-3.600 0-5.600-3.800-5.900-7.800z" fill="#b3876a"/><path d="M4.800 13C3.500 8 4.500 3.500 9 2.600c4-.8 8.500-.1 9.800 2.900.8 2 .7 4 .2 5.500-.4-2-1-3.500-2.200-4.700C14 5.500 10.500 5.600 8 6.800 6.800 8.500 6.400 10.500 6.200 13z" fill="#5e3f2e"/><ellipse cx="10.300" cy="11.300" rx=".8" ry=".75" fill="#2a1a14"/><ellipse cx="15.500" cy="10.600" rx=".8" ry=".75" fill="#2a1a14"/><path d="M12.900 9.500l.6 3.800" stroke="#f6d2b6" stroke-width="1.100"/><ellipse cx="13.300" cy="14.500" rx="1.100" ry=".5" fill="#b5604a"/></svg><span class="nm ma">Marc Demo</span></span><span class="td c-act"><span class="fw"><svg class="fa" viewBox="0 0 1792 1792" width="18.67" height="18.67" style=""><path fill="#5e5c72" d="M1024 544v448q0 14-9 23t-23 9h-320q-14 0-23-9t-9-23v-64q0-14 9-23t23-9h224v-352q0-14 9-23t23-9h64q14 0 23 9t9 23zm416 352q0-148-73-273t-198-198-273-73-273 73-198 198-73 273 73 273 198 198 273 73 273-73 198-198 73-273zm224 0q0 209-103 385.500t-279.500 279.500-385.500 103-385.500-103-279.500-279.500-103-385.500 103-385.500 279.500-279.500 385.500-103 385.500 103 279.500 279.500 103 385.500z"/></svg></span></span><span class="td c-total">$ 477.83</span><span class="badge bn">Nothing to Invoice</span>
</div>
<div class="tr stripe" role="row">
<span class="cb"></span><span class="td c-num">S00014</span><span class="td c-date">11/29/2023 06:05:17</span><span class="td c-cust">Gemini Furniture</span><span class="td c-sales"><svg class="av" viewBox="0 0 24 24" width="24" height="24"><defs><linearGradient id="gd9" x1="0" y1="0" x2="1" y2="1"><stop offset="0" stop-color="#bd86e6"/><stop offset=".5" stop-color="#8349b6"/><stop offset="1" stop-color="#4b1282"/></linearGradient></defs><rect width="24" height="24" rx="3" fill="url(#gd9)"/><ellipse cx="5.300" cy="15" rx="1.300" ry="2.300" fill="#dba47e"/><ellipse cx="19.200" cy="13.600" rx=".9" ry="1.800" fill="#e3b08c"/><path d="M6 8c0-3.500 3-4 6.500-4S19 5 19 9.500c0 5.500-1.500 12.700-6.400 12.700C8 22.200 6 15 6 8z" fill="#e9b68f"/><path d="M6.700 14.500c1.300 1.500 2.800 1.700 4.300 1.100 1.500-.4 3-.4 4.500-.1 1.500.3 2.500-.5 3.200-2 0 4.500-2.200 8.800-6.100 8.800-3.600 0-5.600-3.800-5.900-7.800z" fill="#b3876a"/><path d="M4.800 13C3.500 8 4.500 3.500 9 2.600c4-.8 8.500-.1 9.800 2.900.8 2 .7 4 .2 5.500-.4-2-1-3.500-2.200-4.700C14 5.500 10.500 5.600 8 6.800 6.800 8.500 6.400 10.500 6.200 13z" fill="#5e3f2e"/><ellipse cx="10.300" cy="11.300" rx=".8" ry=".75" fill="#2a1a14"/><ellipse cx="15.500" cy="10.600" rx=".8" ry=".75" fill="#2a1a14"/><path d="M12.900 9.500l.6 3.800" stroke="#f6d2b6" stroke-width="1.100"/><ellipse cx="13.300" cy="14.500" rx="1.100" ry=".5" fill="#b5604a"/></svg><span class="nm ma">Marc Demo</span></span><span class="td c-act"><span class="fw"><svg class="fa" viewBox="0 0 1792 1792" width="18.67" height="18.67" style=""><path fill="#5e5c72" d="M1024 544v448q0 14-9 23t-23 9h-320q-14 0-23-9t-9-23v-64q0-14 9-23t23-9h224v-352q0-14 9-23t23-9h64q14 0 23 9t9 23zm416 352q0-148-73-273t-198-198-273-73-273 73-198 198-73 273 73 273 198 198 273 73 273-73 198-198 73-273zm224 0q0 209-103 385.500t-279.500 279.500-385.500 103-385.500-103-279.500-279.500-103-385.500 103-385.500 279.500-279.500 385.500-103 385.500 103 279.500 279.500 103 385.500z"/></svg></span></span><span class="td c-total">$ 1,819.30</span><span class="badge bn">Nothing to Invoice</span>
</div>
<div class="tr" role="row">
<span class="cb"></span><span class="td c-num">S00015</span><span class="td c-date">11/15/2023 06:05:18</span><span class="td c-cust">Gemini Furniture</span><span class="td c-sales"><svg class="av" viewBox="0 0 24 24" width="24" height="24"><defs><linearGradient id="gd10" x1="0" y1="0" x2="1" y2="1"><stop offset="0" stop-color="#bd86e6"/><stop offset=".5" stop-color="#8349b6"/><stop offset="1" stop-color="#4b1282"/></linearGradient></defs><rect width="24" height="24" rx="3" fill="url(#gd10)"/><ellipse cx="5.300" cy="15" rx="1.300" ry="2.300" fill="#dba47e"/><ellipse cx="19.200" cy="13.600" rx=".9" ry="1.800" fill="#e3b08c"/><path d="M6 8c0-3.500 3-4 6.500-4S19 5 19 9.500c0 5.500-1.500 12.700-6.400 12.700C8 22.200 6 15 6 8z" fill="#e9b68f"/><path d="M6.700 14.500c1.300 1.500 2.800 1.700 4.300 1.100 1.500-.4 3-.4 4.500-.1 1.500.3 2.500-.5 3.200-2 0 4.500-2.200 8.800-6.100 8.800-3.600 0-5.600-3.800-5.900-7.800z" fill="#b3876a"/><path d="M4.800 13C3.500 8 4.500 3.500 9 2.600c4-.8 8.500-.1 9.800 2.900.8 2 .7 4 .2 5.500-.4-2-1-3.500-2.200-4.700C14 5.500 10.500 5.600 8 6.800 6.800 8.500 6.400 10.500 6.200 13z" fill="#5e3f2e"/><ellipse cx="10.300" cy="11.300" rx=".8" ry=".75" fill="#2a1a14"/><ellipse cx="15.500" cy="10.600" rx=".8" ry=".75" fill="#2a1a14"/><path d="M12.900 9.500l.6 3.800" stroke="#f6d2b6" stroke-width="1.100"/><ellipse cx="13.300" cy="14.500" rx="1.100" ry=".5" fill="#b5604a"/></svg><span class="nm ma">Marc Demo</span></span><span class="td c-act"><span class="fw"><svg class="fa" viewBox="0 0 1792 1792" width="18.67" height="18.67" style=""><path fill="#5e5c72" d="M1024 544v448q0 14-9 23t-23 9h-320q-14 0-23-9t-9-23v-64q0-14 9-23t23-9h224v-352q0-14 9-23t23-9h64q14 0 23 9t9 23zm416 352q0-148-73-273t-198-198-273-73-273 73-198 198-73 273 73 273 198 198 273 73 273-73 198-198 73-273zm224 0q0 209-103 385.500t-279.500 279.500-385.500 103-385.500-103-279.500-279.500-103-385.500 103-385.500 279.500-279.500 385.500-103 385.500 103 279.500 279.500 103 385.500z"/></svg></span></span><span class="td c-total">$ 1,772.73</span><span class="badge bn">Nothing to Invoice</span>
</div>
<div class="tr stripe" role="row">
<span class="cb"></span><span class="td c-num">S00016</span><span class="td c-date">11/29/2023 06:05:17</span><span class="td c-cust">Gemini Furniture</span><span class="td c-sales"><svg class="av" viewBox="0 0 24 24" width="24" height="24"><defs><linearGradient id="gd11" x1="0" y1="0" x2="1" y2="1"><stop offset="0" stop-color="#bd86e6"/><stop offset=".5" stop-color="#8349b6"/><stop offset="1" stop-color="#4b1282"/></linearGradient></defs><rect width="24" height="24" rx="3" fill="url(#gd11)"/><ellipse cx="5.300" cy="15" rx="1.300" ry="2.300" fill="#dba47e"/><ellipse cx="19.200" cy="13.600" rx=".9" ry="1.800" fill="#e3b08c"/><path d="M6 8c0-3.500 3-4 6.500-4S19 5 19 9.500c0 5.500-1.500 12.700-6.400 12.700C8 22.200 6 15 6 8z" fill="#e9b68f"/><path d="M6.700 14.500c1.300 1.500 2.800 1.700 4.300 1.100 1.500-.4 3-.4 4.500-.1 1.500.3 2.500-.5 3.200-2 0 4.500-2.200 8.800-6.100 8.800-3.600 0-5.600-3.800-5.900-7.800z" fill="#b3876a"/><path d="M4.800 13C3.500 8 4.500 3.500 9 2.600c4-.8 8.500-.1 9.800 2.900.8 2 .7 4 .2 5.500-.4-2-1-3.500-2.200-4.700C14 5.500 10.500 5.600 8 6.800 6.800 8.500 6.400 10.500 6.200 13z" fill="#5e3f2e"/><ellipse cx="10.300" cy="11.300" rx=".8" ry=".75" fill="#2a1a14"/><ellipse cx="15.500" cy="10.600" rx=".8" ry=".75" fill="#2a1a14"/><path d="M12.900 9.500l.6 3.800" stroke="#f6d2b6" stroke-width="1.100"/><ellipse cx="13.300" cy="14.500" rx="1.100" ry=".5" fill="#b5604a"/></svg><span class="nm ma">Marc Demo</span></span><span class="td c-act"><span class="fw"><svg class="fa" viewBox="0 0 2048 1792" width="21.34" height="18.67" style=""><path fill="#b47b00" d="M2048 1536v128h-2048v-1536h128v1408h1920zm-128-1248v435q0 21-19.500 29.500t-35.500-7.500l-121-121-633 633q-10 10-23 10t-23-10l-233-233-416 416-192-192 585-585q10-10 23-10t23 10l233 233 464-464-121-121q-16-16-7.500-35.500t29.500-19.500h435q14 0 23 9t9 23z"/></svg></span><span class="at">Order Upsell</span></span><span class="td c-total">$ 1,364.48</span><span class="badge bn">Nothing to Invoice</span>
</div>
<div class="tr" role="row">
<span class="cb"></span><span class="td c-num">S00017</span><span class="td c-date">11/01/2023 06:05:18</span><span class="td c-cust">Gemini Furniture</span><span class="td c-sales"><svg class="av" viewBox="0 0 24 24" width="24" height="24"><defs><linearGradient id="gd12" x1="0" y1="0" x2="1" y2="1"><stop offset="0" stop-color="#bd86e6"/><stop offset=".5" stop-color="#8349b6"/><stop offset="1" stop-color="#4b1282"/></linearGradient></defs><rect width="24" height="24" rx="3" fill="url(#gd12)"/><ellipse cx="5.300" cy="15" rx="1.300" ry="2.300" fill="#dba47e"/><ellipse cx="19.200" cy="13.600" rx=".9" ry="1.800" fill="#e3b08c"/><path d="M6 8c0-3.500 3-4 6.500-4S19 5 19 9.500c0 5.500-1.500 12.700-6.400 12.700C8 22.200 6 15 6 8z" fill="#e9b68f"/><path d="M6.700 14.500c1.300 1.500 2.800 1.700 4.300 1.100 1.500-.4 3-.4 4.500-.1 1.500.3 2.500-.5 3.200-2 0 4.500-2.200 8.800-6.100 8.800-3.600 0-5.600-3.800-5.900-7.800z" fill="#b3876a"/><path d="M4.800 13C3.500 8 4.500 3.500 9 2.600c4-.8 8.500-.1 9.800 2.900.8 2 .7 4 .2 5.500-.4-2-1-3.500-2.200-4.700C14 5.500 10.500 5.600 8 6.800 6.800 8.500 6.400 10.500 6.200 13z" fill="#5e3f2e"/><ellipse cx="10.300" cy="11.300" rx=".8" ry=".75" fill="#2a1a14"/><ellipse cx="15.500" cy="10.600" rx=".8" ry=".75" fill="#2a1a14"/><path d="M12.900 9.500l.6 3.800" stroke="#f6d2b6" stroke-width="1.100"/><ellipse cx="13.300" cy="14.500" rx="1.100" ry=".5" fill="#b5604a"/></svg><span class="nm ma">Marc Demo</span></span><span class="td c-act"><span class="fw"><svg class="fa" viewBox="0 0 1792 1792" width="18.67" height="18.67" style=""><path fill="#5e5c72" d="M1024 544v448q0 14-9 23t-23 9h-320q-14 0-23-9t-9-23v-64q0-14 9-23t23-9h224v-352q0-14 9-23t23-9h64q14 0 23 9t9 23zm416 352q0-148-73-273t-198-198-273-73-273 73-198 198-73 273 73 273 198 198 273 73 273-73 198-198 73-273zm224 0q0 209-103 385.500t-279.500 279.500-385.500 103-385.500-103-279.500-279.500-103-385.500 103-385.500 279.500-279.500 385.500-103 385.500 103 279.500 279.500 103 385.500z"/></svg></span></span><span class="td c-total">$ 1,093.65</span><span class="badge bn">Nothing to Invoice</span>
</div>
<div class="tr stripe" role="row">
<span class="cb"></span><span class="td c-num">S00018</span><span class="td c-date">10/25/2023 06:05:18</span><span class="td c-cust">Gemini Furniture</span><span class="td c-sales"><svg class="av" viewBox="0 0 24 24" width="24" height="24"><defs><linearGradient id="gd13" x1="0" y1="0" x2="1" y2="1"><stop offset="0" stop-color="#bd86e6"/><stop offset=".5" stop-color="#8349b6"/><stop offset="1" stop-color="#4b1282"/></linearGradient></defs><rect width="24" height="24" rx="3" fill="url(#gd13)"/><ellipse cx="5.300" cy="15" rx="1.300" ry="2.300" fill="#dba47e"/><ellipse cx="19.200" cy="13.600" rx=".9" ry="1.800" fill="#e3b08c"/><path d="M6 8c0-3.500 3-4 6.500-4S19 5 19 9.500c0 5.500-1.500 12.700-6.400 12.700C8 22.200 6 15 6 8z" fill="#e9b68f"/><path d="M6.700 14.500c1.300 1.500 2.800 1.700 4.300 1.100 1.500-.4 3-.4 4.500-.1 1.500.3 2.500-.5 3.200-2 0 4.500-2.200 8.800-6.100 8.800-3.600 0-5.600-3.800-5.900-7.800z" fill="#b3876a"/><path d="M4.800 13C3.500 8 4.500 3.500 9 2.600c4-.8 8.500-.1 9.800 2.900.8 2 .7 4 .2 5.500-.4-2-1-3.500-2.200-4.700C14 5.500 10.500 5.600 8 6.800 6.800 8.500 6.400 10.500 6.200 13z" fill="#5e3f2e"/><ellipse cx="10.300" cy="11.300" rx=".8" ry=".75" fill="#2a1a14"/><ellipse cx="15.500" cy="10.600" rx=".8" ry=".75" fill="#2a1a14"/><path d="M12.900 9.500l.6 3.800" stroke="#f6d2b6" stroke-width="1.100"/><ellipse cx="13.300" cy="14.500" rx="1.100" ry=".5" fill="#b5604a"/></svg><span class="nm ma">Marc Demo</span></span><span class="td c-act"><span class="fw"><svg class="fa" viewBox="0 0 1792 1792" width="18.67" height="18.67" style=""><path fill="#5e5c72" d="M1024 544v448q0 14-9 23t-23 9h-320q-14 0-23-9t-9-23v-64q0-14 9-23t23-9h224v-352q0-14 9-23t23-9h64q14 0 23 9t9 23zm416 352q0-148-73-273t-198-198-273-73-273 73-198 198-73 273 73 273 198 198 273 73 273-73 198-198 73-273zm224 0q0 209-103 385.500t-279.500 279.500-385.500 103-385.500-103-279.500-279.500-103-385.500 103-385.500 279.500-279.500 385.500-103 385.500 103 279.500 279.500 103 385.500z"/></svg></span></span><span class="td c-total">$ 955.65</span><span class="badge bn">Nothing to Invoice</span>
</div>
<div class="tr" role="row">
<span class="cb"></span><span class="td c-num">S00020</span><span class="td c-date">10/29/2023 06:05:18</span><span class="td c-cust ls08">YourCompany, Joel Willis</span><span class="td c-sales"><svg class="av" viewBox="0 0 26 26" width="24" height="24"><defs><linearGradient id="gm14" x1="0" y1="0" x2="1" y2="1"><stop offset="0" stop-color="#74385f"/><stop offset="1" stop-color="#561a41"/></linearGradient></defs><rect width="26" height="26" rx="3.200" fill="url(#gm14)"/><ellipse cx="5.400" cy="15.800" rx="1.700" ry="2.500" fill="#f6d6bc"/><ellipse cx="22" cy="14.600" rx="1" ry="1.900" fill="#eec3a4"/><path d="M6.300 9C6.300 6 10 5.400 14 5.400c4.500 0 8 1 8.200 5.600.3 6-2.700 13.600-7.400 13.600C10 24.600 6.300 17 6.300 9z" fill="#fce4d0"/><path d="M3.200 13.800C2.200 8 4 3.500 9 2 13 .8 17.500 2 21.900.7c.2 1.800-.4 3.500-1.500 4.800.5 1.300.6 2.200.3 3.200C18 7 13 7.900 9.700 7.900 7.900 8.900 7.100 11 6.600 13.800c-1-.6-2.500-.6-3.400 0z" fill="#18181b"/><rect x="9" y="11.800" width="5.600" height="4.100" rx=".7" fill="#fff" fill-opacity=".62" stroke="#4a4a4e" stroke-width=".9"/><rect x="16" y="11.600" width="5.500" height="4.100" rx=".7" fill="#fff" fill-opacity=".62" stroke="#4a4a4e" stroke-width=".9"/><path d="M14.600 13.300H16M6.600 12.900L9 12.700" stroke="#4a4a4e" stroke-width=".8"/><circle cx="12" cy="13.900" r=".6" fill="#3a3a3a"/><circle cx="18.600" cy="13.700" r=".6" fill="#3a3a3a"/><path d="M17 9.400q1.100-.6 2.200 0" stroke="#222" stroke-width=".6" fill="none"/><path d="M12.700 18.800q2.900 1.300 5.800-.3-.9 2.600-3 2.600-2.100 0-2.800-2.300z" fill="#fff" stroke="#b5645a" stroke-width=".45"/></svg><span class="nm mi">Mitchell Admin</span></span><span class="td c-act"><span class="fw"><svg class="fa" viewBox="0 0 1792 1792" width="18.67" height="18.67" style=""><path fill="#5e5c72" d="M1024 544v448q0 14-9 23t-23 9h-320q-14 0-23-9t-9-23v-64q0-14 9-23t23-9h224v-352q0-14 9-23t23-9h64q14 0 23 9t9 23zm416 352q0-148-73-273t-198-198-273-73-273 73-198 198-73 273 73 273 198 198 273 73 273-73 198-198 73-273zm224 0q0 209-103 385.500t-279.500 279.500-385.500 103-385.500-103-279.500-279.500-103-385.500 103-385.500 279.500-279.500 385.500-103 385.500 103 279.500 279.500 103 385.500z"/></svg></span></span><span class="td c-total">$ 3,389.63</span><span class="badge bn">Nothing to Invoice</span>
</div>
<div class="tfoot" role="row"><span class="td c-total">$ 5,400.40</span></div>
</main>
<div class="wcol" style="top:114px;height:39px"></div><div class="wcol" style="top:277px;height:628px"></div>
<div class="redbox rb1"></div>
<div class="redbox rb2"></div>
</body></html>
